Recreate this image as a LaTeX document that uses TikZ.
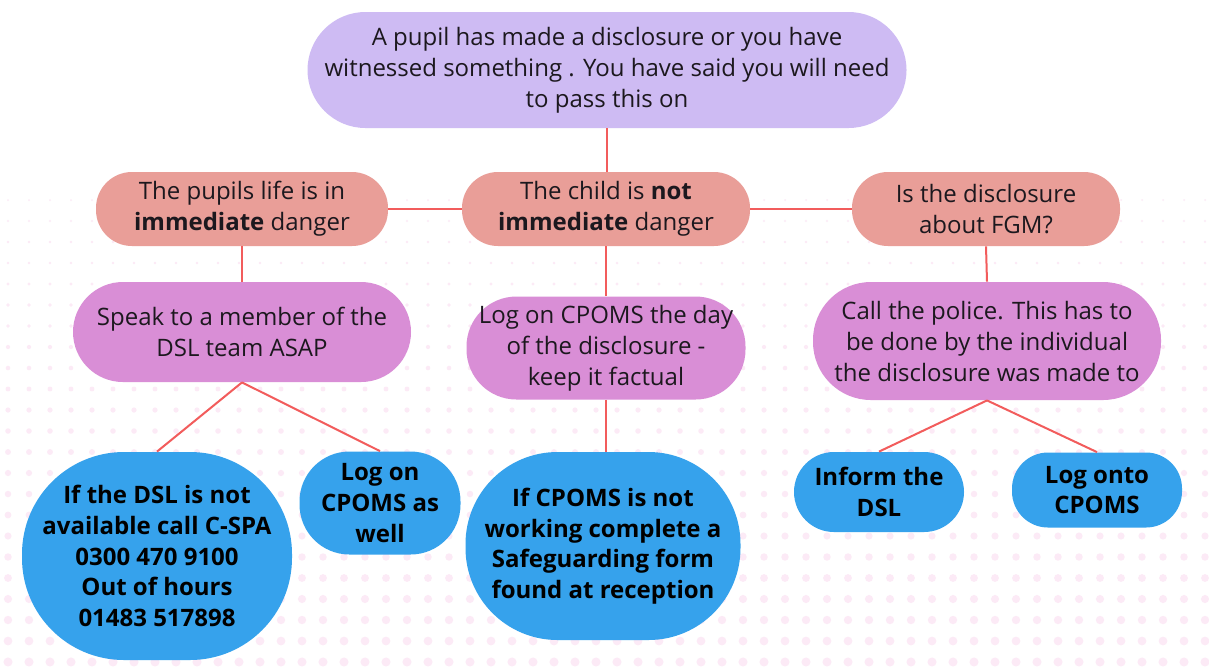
\documentclass[tikz,border=0pt]{standalone}
\usepackage{fontspec}
\setmainfont{Open Sans}
\usetikzlibrary{positioning}
\definecolor{toplav}{RGB}{206, 187, 243}
\definecolor{salmon1}{RGB}{233, 158, 152}
\definecolor{orchid1}{RGB}{217, 142, 214}
\definecolor{skyblue1}{RGB}{54, 162, 236}
\definecolor{linkred}{RGB}{242, 92, 92}
\definecolor{dotpink}{RGB}{252, 234, 246}
\definecolor{inkdark}{RGB}{28, 24, 30}

\tikzset{
  pill/.style={align=center, inner sep=0pt, text=inkdark, font=\fontsize{12}{15.5}\selectfont},
  topbox/.style={pill, fill=toplav, rounded corners=29pt},
  askbox/.style={pill, fill=salmon1, rounded corners=18pt},
  dobox/.style={pill, fill=orchid1, rounded corners=25pt},
  infobox/.style={pill, fill=skyblue1, font=\fontsize{12}{15.3}\selectfont\bfseries, text=black},
  link/.style={draw=linkred, line width=1pt}
}

\begin{document}
\begin{tikzpicture}[x=0.5pt, y=-0.5pt]
  \useasboundingbox (0,0) rectangle (1209,666);
  \fill[white] (0,0) rectangle (1209,666);

  % faint dotted backdrop
  \foreach \row in {0,...,22} {
    \foreach \col in {0,...,57} {
      \pgfmathsetmacro{\dy}{200+\row*21}
      \pgfmathsetmacro{\dr}{1+\row*0.16}
      \fill[dotpink] (\col*21+8,\dy) circle[radius=\dr];
    }
  }

  % top question
  \node[topbox, minimum width=299.5pt, minimum height=58pt] (start) at (607,70)
    {A pupil has made a disclosure or you have\\witnessed something . You have said you will need\\to pass this on};

  % second row
  \node[askbox, minimum width=146pt, minimum height=37pt] (danger) at (242,209)
    {The pupils life is in\\\textbf{immediate} danger};
  \node[askbox, minimum width=144pt, minimum height=37pt] (notdanger) at (606,209)
    {The child is \textbf{not}\\\textbf{immediate} danger};
  \node[askbox, minimum width=134pt, minimum height=37pt] (fgm) at (986,209)
    {Is the disclosure\\about FGM?};

  % third row
  \node[dobox, minimum width=169pt, minimum height=50pt] (speak) at (242,332)
    {Speak to a member of the\\DSL team ASAP};
  \node[dobox, minimum width=139.5pt, minimum height=51.5pt] (logday) at (606,348)
    {Log on CPOMS the day\\of the disclosure -\\keep it factual};
  \node[dobox, rounded corners=29pt, minimum width=174pt, minimum height=59pt] (police) at (987,341)
    {Call the police. This has to\\be done by the individual\\the disclosure was made to};

  % blue actions
  \node[infobox, rounded corners=51pt, minimum width=135pt, minimum height=104pt] (cspa) at (157,556)
    {If the DSL is not\\available call C-SPA\\0300 470 9100\\Out of hours\\01483 517898};
  \node[infobox, rounded corners=25pt, minimum width=80.5pt, minimum height=51.5pt] (logwell) at (380,503)
    {Log on\\CPOMS as\\well};
  \node[infobox, rounded corners=46pt, minimum width=137.5pt, minimum height=94pt] (form) at (603,546)
    {If CPOMS is not\\working complete a\\Safeguarding form\\found at reception};
  \node[infobox, rounded corners=20pt, minimum width=85pt, minimum height=40pt] (inform) at (879,492)
    {Inform the\\DSL};
  \node[infobox, rounded corners=18pt, minimum width=85pt, minimum height=37.5pt] (logonto) at (1097,490)
    {Log onto\\CPOMS};

  % connectors
  \draw[link] (start.south) -- (start.south |- notdanger.north);
  \draw[link] (danger.east) -- (notdanger.west);
  \draw[link] (notdanger.east) -- (fgm.west);
  \draw[link] (danger.south) -- (speak.north);
  \draw[link] (notdanger.south) -- (logday.north);
  \draw[link] (fgm.south) -- (police.north);
  \draw[link] (speak.south) -- (cspa.north);
  \draw[link] (speak.south) -- (logwell.north);
  \draw[link] (logday.south) -- (logday.south |- form.north);
  \draw[link] (police.south) -- (inform.north);
  \draw[link] (police.south) -- (logonto.north);
\end{tikzpicture}
\end{document}
